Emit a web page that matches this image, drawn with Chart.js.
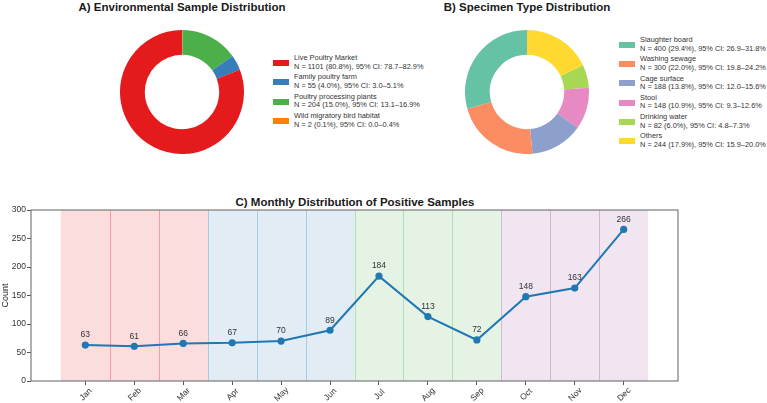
<!DOCTYPE html>
<html>
<head>
<meta charset="utf-8">
<script src="https://cdn.jsdelivr.net/npm/chart.js@4.4.1/dist/chart.umd.min.js"></script>
<style>
  html, body { margin:0; padding:0; background:#fff; }
  body { width:767px; height:403px; position:relative; overflow:hidden; font-family:"Liberation Sans", Arial, sans-serif; }
  canvas { position:absolute; }
  .title { position:absolute; font-weight:bold; font-size:11.5px; color:#1a1a1a; transform:translate(-50%,-50%); white-space:nowrap; }
  .leg { position:absolute; font-size:7.4px; line-height:8.7px; color:#333; white-space:nowrap; }
  .box { position:absolute; width:16px; height:6px; }
</style>
</head>
<body>
<div class="title" style="left:182px; top:7px;">A) Environmental Sample Distribution</div>
<div class="title" style="left:527px; top:7px;">B) Specimen Type Distribution</div>
<div class="title" style="left:355px; top:202px;">C) Monthly Distribution of Positive Samples</div>
<canvas id="cA" width="124" height="124" style="left:120px; top:29.5px;"></canvas>
<canvas id="cB" width="124" height="124" style="left:465px; top:29.5px;"></canvas>
<canvas id="cC" width="767" height="208" style="left:0; top:195px;"></canvas>
<div id="legA"></div>
<div id="legB"></div>
<script>
// ---- Data ----
const envLabels = ["Live Poultry Market", "Family poultry farm", "Poultry processing plants", "Wild migratory bird habitat"];
const envCounts = [1101, 55, 204, 2];
const envPct = ["80.8%", "4.0%", "15.0%", "0.1%"];
const envCI = ["78.7–82.9%", "3.0–5.1%", "13.1–16.9%", "0.0–0.4%"];
const envColors = ["#e41a1c", "#377eb8", "#4daf4a", "#ff7f00"];

const specLabels = ["Slaughter board", "Washing sewage", "Cage surface", "Stool", "Drinking water", "Others"];
const specCounts = [400, 300, 188, 148, 82, 244];
const specPct = ["29.4%", "22.0%", "13.8%", "10.9%", "6.0%", "17.9%"];
const specCI = ["26.9–31.8%", "19.8–24.2%", "12.0–15.6%", "9.3–12.6%", "4.8–7.3%", "15.9–20.0%"];
const specColors = ["#66c2a5", "#fc8d62", "#8da0cb", "#e78ac3", "#a6d854", "#ffd92f"];

const months = ["Jan","Feb","Mar","Apr","May","Jun","Jul","Aug","Sep","Oct","Nov","Dec"];
const positives = [63, 61, 66, 67, 70, 89, 184, 113, 72, 148, 163, 266];
const yTicks = [0, 50, 100, 150, 200, 250, 300];
const seasonColors = ["228,26,28", "55,126,184", "77,175,74", "152,78,163"];

// ---- Legends ----
function buildLegend(id, labels, counts, pct, ci, colors, left, firstCenter, step) {
  const host = document.getElementById(id);
  labels.forEach((lab, i) => {
    const cy = firstCenter + i * step;
    const b = document.createElement('div');
    b.className = 'box';
    b.style.left = left + 'px';
    b.style.top = (cy - 3) + 'px';
    b.style.background = colors[i];
    host.appendChild(b);
    const t = document.createElement('div');
    t.className = 'leg';
    t.style.left = (left + 21) + 'px';
    t.style.top = (cy - 8.9) + 'px';
    t.innerHTML = lab + '<br>N = ' + counts[i] + ' (' + pct[i] + '), 95% CI: ' + ci[i];
    host.appendChild(t);
  });
}
buildLegend('legA', envLabels, envCounts, envPct, envCI, envColors, 273, 63, 19.3);
buildLegend('legB', specLabels, specCounts, specPct, specCI, specColors, 619, 45, 19.2);

// ---- Doughnuts (counter-clockwise from top, as in the original) ----
function donut(id, counts, colors) {
  new Chart(document.getElementById(id), {
    type: 'doughnut',
    data: { datasets: [{ data: counts.slice().reverse(), backgroundColor: colors.slice().reverse(), borderWidth: 0 }] },
    options: {
      responsive: false, animation: false, cutout: '60%',
      plugins: { legend: { display: false }, tooltip: { enabled: false } },
      layout: { padding: 0 }
    }
  });
}
donut('cA', envCounts, envColors);
donut('cB', specCounts, specColors);

// ---- Line chart ----
const bandsPlugin = {
  id: 'bands',
  beforeDatasetsDraw(chart) {
    const { ctx, chartArea, scales: { x, y } } = chart;
    ctx.save();
    months.forEach((m, i) => {
      const c = seasonColors[Math.floor(i / 3)];
      const x0 = x.getPixelForValue(i - 0.5), x1 = x.getPixelForValue(i + 0.5);
      ctx.fillStyle = 'rgba(' + c + ',0.15)';
      ctx.fillRect(x0, chartArea.top, x1 - x0, chartArea.bottom - chartArea.top);
    });
    months.forEach((m, i) => {
      if (i === 0) return;
      const c = seasonColors[Math.floor(i / 3)];
      const xp = Math.round(x.getPixelForValue(i - 0.5)) + 0.5;
      ctx.strokeStyle = 'rgba(' + c + ',0.32)';
      ctx.lineWidth = 1;
      ctx.beginPath(); ctx.moveTo(xp, chartArea.top); ctx.lineTo(xp, chartArea.bottom); ctx.stroke();
    });
    ctx.restore();
  },
  afterDraw(chart) {
    const { ctx, chartArea, scales: { x, y } } = chart;
    ctx.save();
    ctx.strokeStyle = '#7a7a7a';
    ctx.lineWidth = 1.2;
    ctx.strokeRect(chartArea.left, chartArea.top, chartArea.right - chartArea.left, chartArea.bottom - chartArea.top);
    // value labels
    ctx.fillStyle = '#333';
    ctx.font = '8.5px "Liberation Sans", Arial, sans-serif';
    ctx.textAlign = 'center';
    ctx.textBaseline = 'middle';
    positives.forEach((v, i) => {
      ctx.fillText(String(v), x.getPixelForValue(i), y.getPixelForValue(v) - 10);
    });
    // rotated month labels
    ctx.font = '8.5px "Liberation Sans", Arial, sans-serif';
    months.forEach((m, i) => {
      ctx.save();
      ctx.translate(x.getPixelForValue(i) + 0.5, chartArea.bottom + 13.5);
      ctx.rotate(-Math.PI / 4);
      ctx.fillText(m, 0, 0);
      ctx.restore();
    });
    ctx.restore();
  }
};

new Chart(document.getElementById('cC'), {
  type: 'line',
  data: {
    datasets: [{
      data: positives.map((v, i) => ({ x: i, y: v })),
      borderColor: '#1f77b4', backgroundColor: '#1f77b4',
      borderWidth: 2, pointRadius: 3.6, pointBorderWidth: 0, tension: 0
    }]
  },
  options: {
    responsive: false, animation: false,
    layout: { padding: { top: 15, right: 89, left: 0, bottom: 0 } },
    plugins: { legend: { display: false }, tooltip: { enabled: false } },
    scales: {
      x: {
        type: 'linear', min: -1.11, max: 12.11,
        afterBuildTicks: s => { s.ticks = months.map((m, i) => ({ value: i })); },
        afterFit: s => { s.height = 22; },
        ticks: { display: false },
        grid: { display: true, drawOnChartArea: false, drawTicks: true, tickLength: 4, color: '#555', tickColor: '#555' },
        border: { display: false }
      },
      y: {
        min: 0, max: 300,
        afterBuildTicks: s => { s.ticks = yTicks.map(v => ({ value: v })); },
        afterFit: s => { s.width = 31; },
        ticks: { color: '#333', font: { size: 8.5, family: '"Liberation Sans", Arial, sans-serif' }, padding: 1 },
        grid: { display: true, drawOnChartArea: false, drawTicks: true, tickLength: 4, color: '#555', tickColor: '#555' },
        border: { display: false },
        title: { display: true, text: 'Count', color: '#222', padding: 0, font: { size: 9, family: '"Liberation Sans", Arial, sans-serif' } }
      }
    }
  },
  plugins: [bandsPlugin]
});
</script>
</body>
</html>
